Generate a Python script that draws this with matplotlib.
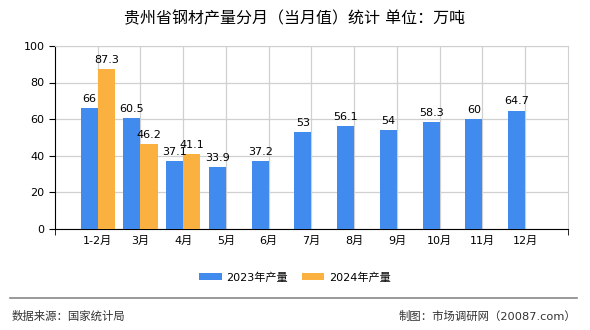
import matplotlib.pyplot as plt
import numpy as np

plt.rcParams['font.family'] = ['DejaVu Sans', 'Noto Sans CJK SC']

months = ['1-2月', '3月', '4月', '5月', '6月', '7月', '8月', '9月', '10月', '11月', '12月']
prod_2023 = [66, 60.5, 37.1, 33.9, 37.2, 53, 56.1, 54, 58.3, 60, 64.7]
prod_2024 = [87.3, 46.2, 41.1]

blue = '#418BEE'
orange = '#FBB13F'

fig = plt.figure(figsize=(5.9, 3.3), dpi=100)
ax = fig.add_axes([0.0932, 0.306, 0.8695, 0.555])

x = np.arange(len(months))
w = 0.4
b1 = ax.bar(x - w / 2, prod_2023, width=w, color=blue, label='2023年产量', zorder=3)
b2 = ax.bar(x[:len(prod_2024)] + w / 2, prod_2024, width=w, color=orange, label='2024年产量', zorder=3)

for bars, vals in [(b1, prod_2023), (b2, prod_2024)]:
    for rect, v in zip(bars, vals):
        ax.annotate(f'{v:g}', (rect.get_x() + rect.get_width() / 2, v),
                    xytext=(0, 3), textcoords='offset points',
                    ha='center', va='bottom', fontsize=8, zorder=4)

ax.set_xlim(-1, len(months))
ax.set_ylim(0, 100)
ax.set_xticks(x)
ax.set_xticklabels(months, fontsize=8)
ax.set_xticks(np.arange(-1, len(months) + 1), minor=True)
ax.set_yticks(range(0, 101, 20))
ax.tick_params(axis='y', labelsize=8, length=4)
ax.tick_params(axis='x', which='major', length=0, pad=5)
ax.tick_params(axis='x', which='minor', length=4)
ax.grid(True, color='#d0d0d0', linewidth=0.9, zorder=0)
ax.set_axisbelow(True)
for s in ['top', 'right']:
    ax.spines[s].set_color('#d0d0d0')
for s in ['left', 'bottom']:
    ax.spines[s].set_color('black')

fig.text(0.5, 0.943, '贵州省钢材产量分月（当月值）统计 单位：万吨', ha='center', va='center', fontsize=11.5)

fig.legend(handles=[b1, b2], loc='center', bbox_to_anchor=(0.5, 0.16), ncol=2,
           frameon=False, fontsize=8, handlelength=2.0, handleheight=0.7,
           handletextpad=0.4, columnspacing=1.3)

fig.add_artist(plt.Line2D([0.017, 0.978], [0.097, 0.097], color='#888888', linewidth=1.2,
                          transform=fig.transFigure))
fig.text(0.02, 0.042, '数据来源：国家统计局', ha='left', va='center', fontsize=8.2, color='#333333')
fig.text(0.977, 0.042, '制图：市场调研网（20087.com）', ha='right', va='center', fontsize=8.2, color='#333333')

fig.savefig('out.png', dpi=100)
